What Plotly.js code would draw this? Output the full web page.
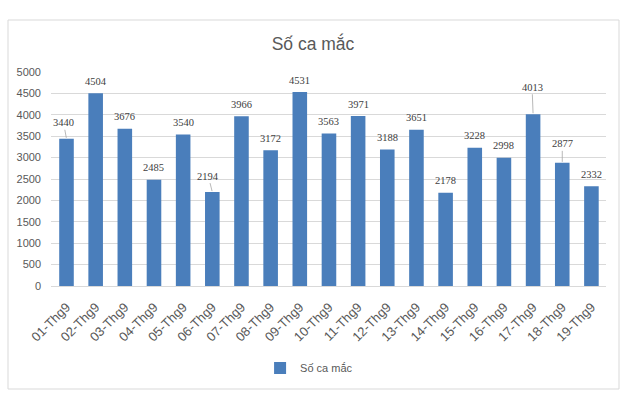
<!DOCTYPE html>
<html>
<head>
<meta charset="utf-8">
<script src="https://cdn.plot.ly/plotly-3.0.1.min.js"></script>
<style>html,body{margin:0;padding:0;background:#fff;}#chart{width:640px;height:400px;}</style>
</head>
<body>
<div id="chart"></div>
<script>
// ---- data ----
const categories = ["01-Thg9","02-Thg9","03-Thg9","04-Thg9","05-Thg9","06-Thg9","07-Thg9","08-Thg9","09-Thg9","10-Thg9","11-Thg9","12-Thg9","13-Thg9","14-Thg9","15-Thg9","16-Thg9","17-Thg9","18-Thg9","19-Thg9"];
const cases = [3440,4504,3676,2485,3540,2194,3966,3172,4531,3563,3971,3188,3651,2178,3228,2998,4013,2877,2332];
const seriesName = "Số ca mắc";
const chartTitle = "Số ca mắc";
const yTicks = [0,500,1000,1500,2000,2500,3000,3500,4000,4500,5000];

// ---- label placement (style, not data) ----
const leaderOffsets = {0:[-3,-16], 5:[-4,-16], 16:[-1,-27], 17:[0,-19]};

const annotations = categories.map((c, i) => {
  const base = {
    x: c, y: cases[i], xref: 'x', yref: 'y',
    text: String(cases[i]),
    font: {family: 'Liberation Serif, Times New Roman, serif', size: 10.5, color: '#404040'}
  };
  if (leaderOffsets[i]) {
    return Object.assign(base, {
      showarrow: true, arrowhead: 0, arrowwidth: 0.8, arrowcolor: '#a6a6a6',
      ax: leaderOffsets[i][0], ay: leaderOffsets[i][1], standoff: 1
    });
  }
  return Object.assign(base, {showarrow: false, yanchor: 'middle', yshift: 12});
});

const trace = {
  type: 'bar', x: categories, y: cases, name: seriesName,
  marker: {color: '#4a7ebb'}, showlegend: true
};

const tickFont = {family: 'Liberation Sans, Arial, sans-serif', size: 11, color: '#595959'};

const layout = {
  width: 640, height: 400,
  margin: {l: 51, r: 34, t: 72, b: 114},
  paper_bgcolor: '#fff', plot_bgcolor: '#fff',
  title: {text: chartTitle, x: 313/640, xref: 'container', xanchor: 'center',
          y: 1 - 44/400, yref: 'container', yanchor: 'middle',
          font: {family: 'Liberation Sans, Arial, sans-serif', size: 17.5, color: '#595959'}},
  bargap: 0.5,
  xaxis: {type: 'category', tickangle: -45, tickfont: Object.assign({}, tickFont, {size: 13}),
          showline: false, ticks: '', showgrid: false, fixedrange: true, ticklabelstandoff: 10},
  yaxis: {range: [0, 5000], tickvals: yTicks, ticktext: yTicks.map(String), tickfont: tickFont,
          gridcolor: '#d9d9d9', gridwidth: 1, zeroline: true, zerolinecolor: '#d9d9d9', zerolinewidth: 1,
          showline: false, ticks: '', ticklabelstandoff: 9, fixedrange: true},
  showlegend: true,
  legend: {orientation: 'h', x: 0.465, xanchor: 'center', y: -0.383, yanchor: 'middle',
           font: tickFont, itemwidth: 30, bgcolor: 'rgba(0,0,0,0)'},
  annotations: annotations,
  shapes: [{type: 'rect', xref: 'paper', yref: 'paper',
            x0: (8-51)/555, x1: (619-51)/555, y0: (286-389)/214, y1: (286-20)/214,
            line: {color: '#d9d9d9', width: 1}, fillcolor: 'rgba(0,0,0,0)', layer: 'below'}]
};

Plotly.newPlot('chart', [trace], layout, {displayModeBar: false, staticPlot: true});
</script>
</body>
</html>
